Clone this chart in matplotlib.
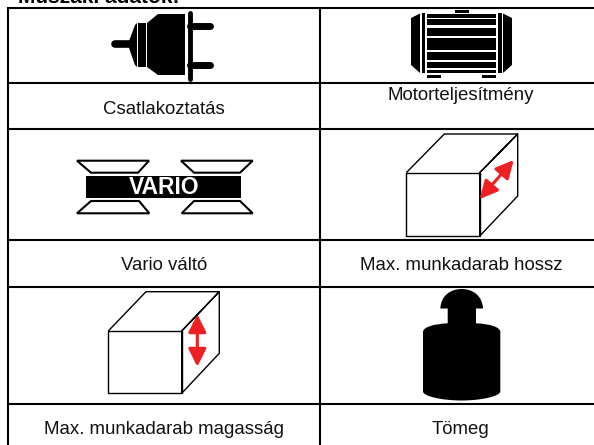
import matplotlib
matplotlib.use("Agg")
import matplotlib.pyplot as plt
from matplotlib.patches import Polygon, PathPatch, FancyArrowPatch, Rectangle
from matplotlib.path import Path

plt.rcParams['font.family'] = ['Liberation Sans', 'DejaVu Sans']

title = "Műszaki adatok:"
labels = ["Csatlakoztatás", "Motorteljesítmény", "Vario váltó",
          "Max. munkadarab hossz", "Max. munkadarab magasság", "Tömeg"]
label_x = [164, 461, 164, 461.5, 164, 461]
label_y = [114, 100, 270, 270.5, 434, 434]

# table lines, in pixels of the original picture
h_lines = [8, 83, 128.5, 239.5, 287, 403.5]
v_lines = [8, 320]

# motor ribs: top, bottom
motor_ribs = [(14, 17.5), (19, 25), (27.7, 35.7), (37.7, 50), (52.3, 60), (62.3, 67.7), (69.7, 73.3)]

vario_trapezoids = [
    [(77, 160.7), (149, 160.7), (138, 172.7), (91, 172.7)],
    [(181, 160.7), (252.7, 160.7), (240, 172.7), (194, 172.7)],
    [(91, 201), (139, 201), (149.3, 213.3), (77, 213.3)],
    [(194, 201), (240, 201), (252.7, 213.3), (181.7, 213.3)],
]

fig = plt.figure(figsize=(5.94, 4.45), dpi=100)
ax = fig.add_axes([0, 0, 1, 1])
ax.set_xlim(0, 594)
ax.set_ylim(445, 0)
ax.axis('off')

for y in h_lines:
    ax.plot([8, 594], [y, y], color='black', lw=1.5, solid_capstyle='butt')
for x in v_lines:
    ax.plot([x, x], [7.3, 445], color='black', lw=1.5, solid_capstyle='butt')

ax.text(18, 3, title, fontsize=15, fontweight='bold', va='baseline', ha='left')
for s, x, y in zip(labels, label_x, label_y):
    ax.text(x, y, s, fontsize=13.4, va='baseline', ha='center', color='#111111')

# plug
ax.plot([115, 132], [44, 44], color='black', lw=5.5, solid_capstyle='round')
ax.add_patch(Polygon([(129, 41), (135, 25), (137, 23), (137, 67), (135, 65), (129, 48)], color='black', lw=0))
ax.add_patch(Rectangle((138, 23), 8, 44, color='black', lw=0))
ax.add_patch(Polygon([(147, 23), (158, 14), (185, 14), (185, 75), (158, 75), (147, 67)], color='black', lw=0))
ax.plot([189.5, 189.5], [13, 79], color='black', lw=3.5, solid_capstyle='round')
ax.plot([190, 210], [25.5, 25.5], color='black', lw=5, solid_capstyle='round')
ax.plot([190, 210], [64.5, 64.5], color='black', lw=5, solid_capstyle='round')

# motor
ax.add_patch(Rectangle((455, 10), 14, 3, color='black', lw=0))
ax.add_patch(Polygon([(411, 18), (420, 13.5), (420, 73), (411, 65)], color='black', lw=0))
ax.add_patch(Rectangle((422, 13), 3, 60, color='black', lw=0))
ax.add_patch(Rectangle((498, 13), 3.5, 60, color='black', lw=0))
ax.add_patch(Polygon([(503, 13.5), (512, 18), (512, 65), (503, 73)], color='black', lw=0))
for top, bottom in motor_ribs:
    ax.add_patch(Rectangle((427, top), 69, bottom - top, color='black', lw=0))
ax.add_patch(Rectangle((427, 74.5), 14, 3, color='black', lw=0))
ax.add_patch(Rectangle((482, 74.5), 14, 3, color='black', lw=0))

# vario
for pts in vario_trapezoids:
    ax.add_patch(Polygon(pts, closed=True, facecolor='white', edgecolor='black', lw=1.5))
ax.add_patch(Rectangle((86, 176), 155, 21.7, color='black', lw=0))
ax.text(164, 194, "VARIO", color='white', fontsize=16.5, fontweight='bold', ha='center', va='baseline')

# cube with length arrow
cube_lw = 1.0
ax.add_patch(Rectangle((406.3, 172.7), 73.4, 63.3, fill=False, edgecolor='black', lw=cube_lw))
ax.add_patch(Polygon([(406.3, 172.7), (444.3, 134), (517.7, 134), (517.7, 196), (479.7, 236), (479.7, 172.7), (517.7, 134), (479.7, 172.7)],
                     closed=False, fill=False, edgecolor='black', lw=cube_lw))
ax.add_patch(FancyArrowPatch((513.7, 160), (479.7, 199), arrowstyle='<|-|>,head_length=0.9,head_width=0.45',
                             mutation_scale=12, color='#ee2024', lw=2.2, shrinkA=0, shrinkB=0))

# cube with height arrow
ax.add_patch(Rectangle((108.3, 331), 73.4, 62.3, fill=False, edgecolor='black', lw=cube_lw))
ax.add_patch(Polygon([(108.3, 331), (146, 291.7), (219.3, 291.7), (219.3, 353.3), (181.7, 393.3), (181.7, 331), (219.3, 291.7), (181.7, 331)],
                     closed=False, fill=False, edgecolor='black', lw=cube_lw))
ax.add_patch(FancyArrowPatch((197.3, 314.3), (197.3, 366.7), arrowstyle='<|-|>,head_length=0.9,head_width=0.45',
                             mutation_scale=12, color='#ee2024', lw=2.2, shrinkA=0, shrinkB=0))

# weight
verts = [(440.3, 308.5), (441, 296), (450, 289), (461.7, 289), (473, 289), (482.5, 296), (483, 308.5),
         (476, 308.5), (476, 323.3), (490, 324), (500.3, 327), (500.3, 332),
         (500.3, 391.5), (500.3, 396), (482, 400.5), (461.7, 400.5), (441, 400.5), (423, 396), (423, 391.5),
         (423, 332), (423, 327), (434, 324), (447.7, 323.3), (447.7, 308.5), (440.3, 308.5)]
codes = [Path.MOVETO, Path.CURVE4, Path.CURVE4, Path.CURVE4, Path.CURVE4, Path.CURVE4, Path.CURVE4,
         Path.LINETO, Path.LINETO, Path.CURVE4, Path.CURVE4, Path.CURVE4,
         Path.LINETO, Path.CURVE4, Path.CURVE4, Path.CURVE4, Path.CURVE4, Path.CURVE4, Path.CURVE4,
         Path.LINETO, Path.CURVE4, Path.CURVE4, Path.CURVE4, Path.LINETO, Path.CLOSEPOLY]
ax.add_patch(PathPatch(Path(verts, codes), color='black', lw=0))

fig.savefig('out.png', dpi=100)
